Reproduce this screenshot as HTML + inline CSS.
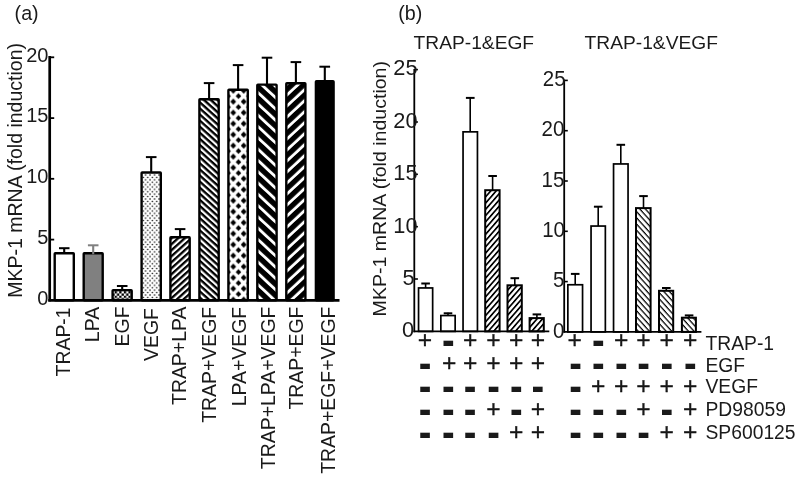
<!DOCTYPE html>
<html lang="en"><head><meta charset="utf-8"><title>MKP-1 mRNA fold induction</title>
<style>html,body{margin:0;padding:0;background:#fff;}body{width:800px;height:479px;overflow:hidden;}svg{display:block;will-change:transform;}text{font-family:"Liberation Sans", Arial, sans-serif;fill:#1a1a1a;}</style>
</head><body>
<svg width="800" height="479" viewBox="0 0 800 479">
<rect x="0" y="0" width="800" height="479" fill="#ffffff"/>
<defs>
<pattern id="pChk" patternUnits="userSpaceOnUse" x="114.65" y="291.15" width="4.6" height="4.6"><rect width="4.6" height="4.6" fill="#fff"/><rect x="0" y="0" width="2.3" height="2.3" fill="#000"/><rect x="2.3" y="2.3" width="2.3" height="2.3" fill="#000"/></pattern>
<pattern id="pDot" patternUnits="userSpaceOnUse" x="141.05" y="175.0" width="4.5" height="4.8"><rect width="4.5" height="4.8" fill="#fff"/><circle cx="2.25" cy="2.4" r="0.8" fill="#000"/><circle cx="0" cy="0" r="0.8" fill="#000"/><circle cx="4.5" cy="0" r="0.8" fill="#000"/><circle cx="0" cy="4.8" r="0.8" fill="#000"/><circle cx="4.5" cy="4.8" r="0.8" fill="#000"/></pattern>
<pattern id="pFwdM" patternUnits="userSpaceOnUse" width="20" height="4.459" patternTransform="translate(170.00 238.00) rotate(-42.00)"><rect width="20" height="4.459" fill="#fff"/><rect width="20" height="2.300" fill="#000"/></pattern>
<pattern id="pBackF" patternUnits="userSpaceOnUse" width="20" height="4.533" patternTransform="translate(199.00 100.00) rotate(42.00)"><rect width="20" height="4.533" fill="#fff"/><rect width="20" height="2.350" fill="#000"/></pattern>
<pattern id="pBackB" patternUnits="userSpaceOnUse" width="20" height="8.264" patternTransform="translate(257.00 82.30) rotate(43.00)"><rect width="20" height="8.264" fill="#fff"/><rect width="20" height="5.400" fill="#000"/></pattern>
<pattern id="pFwdB" patternUnits="userSpaceOnUse" width="20" height="8.045" patternTransform="translate(286.00 86.80) rotate(-43.00)"><rect width="20" height="8.045" fill="#fff"/><rect width="20" height="5.200" fill="#000"/></pattern>
<pattern id="pFwdT" patternUnits="userSpaceOnUse" width="20" height="4.100" patternTransform="translate(485.00 190.00) rotate(-49.00)"><rect width="20" height="4.100" fill="#fff"/><rect width="20" height="1.700" fill="#000"/></pattern>
<pattern id="pBackT" patternUnits="userSpaceOnUse" width="20" height="4.149" patternTransform="translate(636.00 210.00) rotate(48.00)"><rect width="20" height="4.149" fill="#fff"/><rect width="20" height="1.250" fill="#000"/></pattern>
<pattern id="pDia" patternUnits="userSpaceOnUse" x="233.4" y="90.65" width="10.4" height="11"><rect width="10.4" height="11" fill="#fff"/><path d="M0 -2.9L2.8 0L0 2.9L-2.8 0Z M10.2 -2.9L13 0L10.2 2.9L7.4 0Z M0 8L2.8 10.9L0 13.8L-2.8 10.9Z M10.2 8L13 10.9L10.2 13.8L7.4 10.9Z M5.1 2.55L7.9 5.45L5.1 8.35L2.3 5.45Z" fill="#000"/></pattern>
</defs>
<g id="chart-a">
<rect x="54.70" y="253.20" width="19.10" height="47.20" rx="0.6" fill="#fff" stroke="#000" stroke-width="2.4"/>
<path d="M64.2 253.0V248.2" stroke="#000" stroke-width="2.1" fill="none"/><path d="M59.0 248.2H69.5" stroke="#000" stroke-width="2" fill="none"/>
<rect x="83.70" y="253.20" width="19.00" height="47.20" rx="0.6" fill="#808080" stroke="#000" stroke-width="2.4"/>
<path d="M93.2 254.2V245.3" stroke="#808080" stroke-width="2.1" fill="none"/><path d="M87.9 245.3H98.5" stroke="#808080" stroke-width="2" fill="none"/>
<rect x="112.60" y="290.10" width="19.10" height="10.30" rx="0.6" fill="url(#pChk)" stroke="#000" stroke-width="2.4"/>
<path d="M122.2 289.9V286.0" stroke="#000" stroke-width="2.1" fill="none"/><path d="M116.9 286.0H127.5" stroke="#000" stroke-width="2" fill="none"/>
<rect x="141.60" y="172.50" width="19.20" height="127.90" rx="0.6" fill="url(#pDot)" stroke="#000" stroke-width="2.4"/>
<path d="M151.2 172.3V157.1" stroke="#000" stroke-width="2.1" fill="none"/><path d="M145.9 157.1H156.5" stroke="#000" stroke-width="2" fill="none"/>
<rect x="170.40" y="237.30" width="19.30" height="63.10" rx="0.6" fill="url(#pFwdM)" stroke="#000" stroke-width="2.4"/>
<path d="M180.1 237.1V229.1" stroke="#000" stroke-width="2.1" fill="none"/><path d="M174.8 229.1H185.4" stroke="#000" stroke-width="2" fill="none"/>
<rect x="199.40" y="99.20" width="19.30" height="201.20" rx="0.6" fill="url(#pBackF)" stroke="#000" stroke-width="2.4"/>
<path d="M209.1 99.0V83.1" stroke="#000" stroke-width="2.1" fill="none"/><path d="M203.8 83.1H214.4" stroke="#000" stroke-width="2" fill="none"/>
<rect x="228.40" y="89.80" width="19.40" height="210.60" rx="0.6" fill="url(#pDia)" stroke="#000" stroke-width="2.4"/>
<path d="M238.1 89.6V65.1" stroke="#000" stroke-width="2.1" fill="none"/><path d="M232.8 65.1H243.4" stroke="#000" stroke-width="2" fill="none"/>
<rect x="257.30" y="84.60" width="19.30" height="215.80" rx="0.6" fill="url(#pBackB)" stroke="#000" stroke-width="2.4"/>
<path d="M267.0 84.4V57.7" stroke="#000" stroke-width="2.1" fill="none"/><path d="M261.7 57.7H272.3" stroke="#000" stroke-width="2" fill="none"/>
<rect x="286.30" y="83.20" width="19.10" height="217.20" rx="0.6" fill="url(#pFwdB)" stroke="#000" stroke-width="2.4"/>
<path d="M295.9 83.0V62.1" stroke="#000" stroke-width="2.1" fill="none"/><path d="M290.6 62.1H301.2" stroke="#000" stroke-width="2" fill="none"/>
<rect x="315.90" y="81.20" width="17.70" height="219.20" rx="0.6" fill="#000" stroke="#000" stroke-width="2.4"/>
<path d="M324.8 81.0V66.7" stroke="#000" stroke-width="2.1" fill="none"/><path d="M319.4 66.7H330.1" stroke="#000" stroke-width="2" fill="none"/>
<path d="M49.7 56V301.4" stroke="#000" stroke-width="2.7" fill="none"/>
<path d="M48.3 300.4H339.5" stroke="#000" stroke-width="2.8" fill="none"/>
<path d="M49.7 239.6H54.2" stroke="#000" stroke-width="1.8" fill="none"/>
<path d="M49.7 178.8H54.2" stroke="#000" stroke-width="1.8" fill="none"/>
<path d="M49.7 118.1H54.2" stroke="#000" stroke-width="1.8" fill="none"/>
<path d="M49.7 57.3H54.2" stroke="#000" stroke-width="1.8" fill="none"/>
<text x="48.4" y="304.7" font-size="20" text-anchor="end">0</text>
<text x="48.4" y="243.9" font-size="20" text-anchor="end">5</text>
<text x="48.4" y="183.1" font-size="20" text-anchor="end">10</text>
<text x="48.4" y="122.4" font-size="20" text-anchor="end">15</text>
<text x="48.4" y="61.6" font-size="20" text-anchor="end">20</text>
<text transform="translate(21.7 297.85) rotate(-90) scale(1 1.03)" font-size="19.53">MKP-1 mRNA (fold induction)</text>
<text transform="translate(69.5 307.4) rotate(-90) scale(1 1.08)" font-size="19.42" text-anchor="end">TRAP-1</text>
<text transform="translate(98.5 306.9) rotate(-90) scale(1 1.08)" font-size="19.42" text-anchor="end">LPA</text>
<text transform="translate(129.4 306.5) rotate(-90) scale(1 1.08)" font-size="19.42" text-anchor="end">EGF</text>
<text transform="translate(158.3 308.1) rotate(-90) scale(1 1.08)" font-size="19.42" text-anchor="end">VEGF</text>
<text transform="translate(185.6 306.6) rotate(-90) scale(1 1.08)" font-size="19.42" text-anchor="end">TRAP+LPA</text>
<text transform="translate(216.1 306.8) rotate(-90) scale(1 1.08)" font-size="19.42" text-anchor="end">TRAP+VEGF</text>
<text transform="translate(246.0 306.8) rotate(-90) scale(1 1.08)" font-size="19.42" text-anchor="end">LPA+VEGF</text>
<text transform="translate(274.8 306.6) rotate(-90) scale(1 1.08)" font-size="19.42" text-anchor="end">TRAP+LPA+VEGF</text>
<text transform="translate(303.0 306.6) rotate(-90) scale(1 1.08)" font-size="19.42" text-anchor="end">TRAP+EGF</text>
<text transform="translate(335.4 306.6) rotate(-90) scale(1 1.08)" font-size="19.42" text-anchor="end">TRAP+EGF+VEGF</text>
<text x="14.6" y="20" font-size="19.7">(a)</text>
</g>
<g id="chart-b1">
<path d="M425.6 288.1V283.0" stroke="#000" stroke-width="1.6" fill="none"/><path d="M421.3 283.5H429.9" stroke="#000" stroke-width="2" fill="none"/>
<rect x="418.55" y="287.95" width="14.10" height="43.45" fill="#fff" stroke="#000" stroke-width="1.7"/>
<path d="M448.0 315.7V312.8" stroke="#000" stroke-width="1.6" fill="none"/><path d="M443.7 313.3H452.3" stroke="#000" stroke-width="2" fill="none"/>
<rect x="440.85" y="315.55" width="14.30" height="15.85" fill="#fff" stroke="#000" stroke-width="1.7"/>
<path d="M470.2 132.0V97.4" stroke="#000" stroke-width="1.6" fill="none"/><path d="M465.9 97.9H474.6" stroke="#000" stroke-width="2" fill="none"/>
<rect x="463.05" y="131.85" width="14.40" height="199.55" fill="#fff" stroke="#000" stroke-width="1.7"/>
<path d="M492.6 190.2V175.5" stroke="#000" stroke-width="1.6" fill="none"/><path d="M488.3 176.0H496.9" stroke="#000" stroke-width="2" fill="none"/>
<rect x="485.20" y="190.20" width="14.40" height="141.20" fill="url(#pFwdT)" stroke="#000" stroke-width="2.0"/>
<path d="M514.8 285.3V277.7" stroke="#000" stroke-width="1.6" fill="none"/><path d="M510.5 278.2H519.1" stroke="#000" stroke-width="2" fill="none"/>
<rect x="507.50" y="285.30" width="14.30" height="46.10" fill="url(#pFwdT)" stroke="#000" stroke-width="2.0"/>
<path d="M536.9 318.1V313.9" stroke="#000" stroke-width="1.6" fill="none"/><path d="M532.6 314.4H541.2" stroke="#000" stroke-width="2" fill="none"/>
<rect x="529.60" y="318.10" width="14.20" height="13.30" fill="url(#pFwdT)" stroke="#000" stroke-width="2.0"/>
<path d="M414.3 69.0V332.2" stroke="#000" stroke-width="1.8" fill="none"/>
<path d="M413.4 331.4H549.3" stroke="#000" stroke-width="1.8" fill="none"/>
<path d="M414.3 279.0H417.9" stroke="#000" stroke-width="1.6" fill="none"/>
<path d="M414.3 226.7H417.9" stroke="#000" stroke-width="1.6" fill="none"/>
<path d="M414.3 174.3H417.9" stroke="#000" stroke-width="1.6" fill="none"/>
<path d="M414.3 122.0H417.9" stroke="#000" stroke-width="1.6" fill="none"/>
<path d="M414.3 69.6H417.9" stroke="#000" stroke-width="1.6" fill="none"/>
<text transform="translate(414.2 337.2) scale(1 1.010)" font-size="21.8" text-anchor="end">0</text>
<text transform="translate(414.6 284.8) scale(1 1.010)" font-size="21.8" text-anchor="end">5</text>
<text transform="translate(417.6 232.5) scale(1 1.010)" font-size="21.8" text-anchor="end">10</text>
<text transform="translate(417.6 180.1) scale(1 1.010)" font-size="21.8" text-anchor="end">15</text>
<text transform="translate(417.6 127.8) scale(1 1.010)" font-size="21.8" text-anchor="end">20</text>
<text transform="translate(417.6 75.4) scale(1 1.010)" font-size="21.8" text-anchor="end">25</text>
<text x="413.6" y="48.5" font-size="19.2">TRAP-1&amp;EGF</text>
</g>
<g id="chart-b2">
<path d="M575.2 284.9V273.4" stroke="#000" stroke-width="1.6" fill="none"/><path d="M570.9 273.9H579.5" stroke="#000" stroke-width="2" fill="none"/>
<rect x="567.85" y="284.75" width="14.70" height="47.15" fill="#fff" stroke="#000" stroke-width="1.7"/>
<path d="M598.2 226.2V206.2" stroke="#000" stroke-width="1.6" fill="none"/><path d="M593.9 206.7H602.5" stroke="#000" stroke-width="2" fill="none"/>
<rect x="591.05" y="226.05" width="14.30" height="105.85" fill="#fff" stroke="#000" stroke-width="1.7"/>
<path d="M620.8 164.1V144.3" stroke="#000" stroke-width="1.6" fill="none"/><path d="M616.5 144.8H625.1" stroke="#000" stroke-width="2" fill="none"/>
<rect x="613.55" y="163.95" width="14.50" height="167.95" fill="#fff" stroke="#000" stroke-width="1.7"/>
<path d="M643.5 208.1V195.6" stroke="#000" stroke-width="1.6" fill="none"/><path d="M639.2 196.1H647.8" stroke="#000" stroke-width="2" fill="none"/>
<rect x="636.00" y="208.10" width="14.60" height="123.80" fill="url(#pBackT)" stroke="#000" stroke-width="2.0"/>
<path d="M666.3 290.8V287.5" stroke="#000" stroke-width="1.6" fill="none"/><path d="M662.0 288.0H670.6" stroke="#000" stroke-width="2" fill="none"/>
<rect x="659.00" y="290.80" width="14.20" height="41.10" fill="url(#pBackT)" stroke="#000" stroke-width="2.0"/>
<path d="M689.1 317.7V314.9" stroke="#000" stroke-width="1.6" fill="none"/><path d="M684.8 315.4H693.4" stroke="#000" stroke-width="2" fill="none"/>
<rect x="681.90" y="317.70" width="14.00" height="14.20" fill="url(#pBackT)" stroke="#000" stroke-width="2.0"/>
<path d="M564.2 79.6V332.7" stroke="#000" stroke-width="1.8" fill="none"/>
<path d="M563.3 331.9H701.4" stroke="#000" stroke-width="1.8" fill="none"/>
<path d="M564.2 281.6H567.8" stroke="#000" stroke-width="1.6" fill="none"/>
<path d="M564.2 231.3H567.8" stroke="#000" stroke-width="1.6" fill="none"/>
<path d="M564.2 181.0H567.8" stroke="#000" stroke-width="1.6" fill="none"/>
<path d="M564.2 130.7H567.8" stroke="#000" stroke-width="1.6" fill="none"/>
<path d="M564.2 80.4H567.8" stroke="#000" stroke-width="1.6" fill="none"/>
<text transform="translate(564.4 337.5) scale(1 1.075)" font-size="20.5" text-anchor="end">0</text>
<text transform="translate(564.4 287.2) scale(1 1.075)" font-size="20.5" text-anchor="end">5</text>
<text transform="translate(565.0 236.9) scale(1 1.075)" font-size="20.5" text-anchor="end">10</text>
<text transform="translate(564.4 186.6) scale(1 1.075)" font-size="20.5" text-anchor="end">15</text>
<text transform="translate(564.4 136.3) scale(1 1.075)" font-size="20.5" text-anchor="end">20</text>
<text transform="translate(565.6 86.0) scale(1 1.075)" font-size="20.5" text-anchor="end">25</text>
<text x="584.6" y="48.5" font-size="19.2">TRAP-1&amp;VEGF</text>
</g>
<text transform="translate(385.7 316.4) rotate(-90) scale(1 0.97)" font-size="19.58">MKP-1 mRNA (fold induction)</text>
<text x="398.2" y="20" font-size="19.7">(b)</text>
<g id="matrix">
<text x="417.8" y="348.3" font-size="24.6" fill="#000" stroke="#000" stroke-width="0.3">+</text>
<text transform="translate(448.3 343.4) scale(1 1.18)" x="-6.31" y="9.86" font-size="38" font-weight="bold" fill="#000">-</text>
<text x="462.9" y="348.3" font-size="24.6" fill="#000" stroke="#000" stroke-width="0.3">+</text>
<text x="486.3" y="348.3" font-size="24.6" fill="#000" stroke="#000" stroke-width="0.3">+</text>
<text x="509.0" y="348.3" font-size="24.6" fill="#000" stroke="#000" stroke-width="0.3">+</text>
<text x="530.7" y="348.3" font-size="24.6" fill="#000" stroke="#000" stroke-width="0.3">+</text>
<text transform="translate(425.0 366.1) scale(1 1.18)" x="-6.31" y="9.86" font-size="38" font-weight="bold" fill="#000">-</text>
<text x="442.1" y="371.0" font-size="24.6" fill="#000" stroke="#000" stroke-width="0.3">+</text>
<text x="462.9" y="371.0" font-size="24.6" fill="#000" stroke="#000" stroke-width="0.3">+</text>
<text x="486.3" y="371.0" font-size="24.6" fill="#000" stroke="#000" stroke-width="0.3">+</text>
<text x="509.0" y="371.0" font-size="24.6" fill="#000" stroke="#000" stroke-width="0.3">+</text>
<text x="530.7" y="371.0" font-size="24.6" fill="#000" stroke="#000" stroke-width="0.3">+</text>
<text transform="translate(425.0 388.9) scale(1 1.18)" x="-6.31" y="9.86" font-size="38" font-weight="bold" fill="#000">-</text>
<text transform="translate(448.3 388.9) scale(1 1.18)" x="-6.31" y="9.86" font-size="38" font-weight="bold" fill="#000">-</text>
<text transform="translate(470.1 388.9) scale(1 1.18)" x="-6.31" y="9.86" font-size="38" font-weight="bold" fill="#000">-</text>
<text transform="translate(493.5 388.9) scale(1 1.18)" x="-6.31" y="9.86" font-size="38" font-weight="bold" fill="#000">-</text>
<text transform="translate(516.2 388.9) scale(1 1.18)" x="-6.31" y="9.86" font-size="38" font-weight="bold" fill="#000">-</text>
<text transform="translate(537.9 388.9) scale(1 1.18)" x="-6.31" y="9.86" font-size="38" font-weight="bold" fill="#000">-</text>
<text transform="translate(425.0 411.9) scale(1 1.18)" x="-6.31" y="9.86" font-size="38" font-weight="bold" fill="#000">-</text>
<text transform="translate(448.3 411.9) scale(1 1.18)" x="-6.31" y="9.86" font-size="38" font-weight="bold" fill="#000">-</text>
<text transform="translate(470.1 411.9) scale(1 1.18)" x="-6.31" y="9.86" font-size="38" font-weight="bold" fill="#000">-</text>
<text x="486.3" y="416.8" font-size="24.6" fill="#000" stroke="#000" stroke-width="0.3">+</text>
<text transform="translate(516.2 411.9) scale(1 1.18)" x="-6.31" y="9.86" font-size="38" font-weight="bold" fill="#000">-</text>
<text x="530.7" y="416.8" font-size="24.6" fill="#000" stroke="#000" stroke-width="0.3">+</text>
<text transform="translate(425.0 435.0) scale(1 1.18)" x="-6.31" y="9.86" font-size="38" font-weight="bold" fill="#000">-</text>
<text transform="translate(448.3 435.0) scale(1 1.18)" x="-6.31" y="9.86" font-size="38" font-weight="bold" fill="#000">-</text>
<text transform="translate(470.1 435.0) scale(1 1.18)" x="-6.31" y="9.86" font-size="38" font-weight="bold" fill="#000">-</text>
<text transform="translate(493.5 435.0) scale(1 1.18)" x="-6.31" y="9.86" font-size="38" font-weight="bold" fill="#000">-</text>
<text x="509.0" y="439.9" font-size="24.6" fill="#000" stroke="#000" stroke-width="0.3">+</text>
<text x="530.7" y="439.9" font-size="24.6" fill="#000" stroke="#000" stroke-width="0.3">+</text>
<text x="567.4" y="348.3" font-size="24.6" fill="#000" stroke="#000" stroke-width="0.3">+</text>
<text transform="translate(598.3 343.4) scale(1 1.18)" x="-6.31" y="9.86" font-size="38" font-weight="bold" fill="#000">-</text>
<text x="614.1" y="348.3" font-size="24.6" fill="#000" stroke="#000" stroke-width="0.3">+</text>
<text x="636.3" y="348.3" font-size="24.6" fill="#000" stroke="#000" stroke-width="0.3">+</text>
<text x="659.5" y="348.3" font-size="24.6" fill="#000" stroke="#000" stroke-width="0.3">+</text>
<text x="683.0" y="348.3" font-size="24.6" fill="#000" stroke="#000" stroke-width="0.3">+</text>
<text transform="translate(575.6 366.1) scale(1 1.18)" x="-6.31" y="9.86" font-size="38" font-weight="bold" fill="#000">-</text>
<text transform="translate(598.3 366.1) scale(1 1.18)" x="-6.31" y="9.86" font-size="38" font-weight="bold" fill="#000">-</text>
<text transform="translate(621.3 366.1) scale(1 1.18)" x="-6.31" y="9.86" font-size="38" font-weight="bold" fill="#000">-</text>
<text transform="translate(643.5 366.1) scale(1 1.18)" x="-6.31" y="9.86" font-size="38" font-weight="bold" fill="#000">-</text>
<text transform="translate(666.7 366.1) scale(1 1.18)" x="-6.31" y="9.86" font-size="38" font-weight="bold" fill="#000">-</text>
<text transform="translate(690.2 366.1) scale(1 1.18)" x="-6.31" y="9.86" font-size="38" font-weight="bold" fill="#000">-</text>
<text transform="translate(575.6 388.9) scale(1 1.18)" x="-6.31" y="9.86" font-size="38" font-weight="bold" fill="#000">-</text>
<text x="591.1" y="393.8" font-size="24.6" fill="#000" stroke="#000" stroke-width="0.3">+</text>
<text x="614.1" y="393.8" font-size="24.6" fill="#000" stroke="#000" stroke-width="0.3">+</text>
<text x="636.3" y="393.8" font-size="24.6" fill="#000" stroke="#000" stroke-width="0.3">+</text>
<text x="659.5" y="393.8" font-size="24.6" fill="#000" stroke="#000" stroke-width="0.3">+</text>
<text x="683.0" y="393.8" font-size="24.6" fill="#000" stroke="#000" stroke-width="0.3">+</text>
<text transform="translate(575.6 411.9) scale(1 1.18)" x="-6.31" y="9.86" font-size="38" font-weight="bold" fill="#000">-</text>
<text transform="translate(598.3 411.9) scale(1 1.18)" x="-6.31" y="9.86" font-size="38" font-weight="bold" fill="#000">-</text>
<text transform="translate(621.3 411.9) scale(1 1.18)" x="-6.31" y="9.86" font-size="38" font-weight="bold" fill="#000">-</text>
<text x="636.3" y="416.8" font-size="24.6" fill="#000" stroke="#000" stroke-width="0.3">+</text>
<text transform="translate(666.7 411.9) scale(1 1.18)" x="-6.31" y="9.86" font-size="38" font-weight="bold" fill="#000">-</text>
<text x="683.0" y="416.8" font-size="24.6" fill="#000" stroke="#000" stroke-width="0.3">+</text>
<text transform="translate(575.6 435.0) scale(1 1.18)" x="-6.31" y="9.86" font-size="38" font-weight="bold" fill="#000">-</text>
<text transform="translate(598.3 435.0) scale(1 1.18)" x="-6.31" y="9.86" font-size="38" font-weight="bold" fill="#000">-</text>
<text transform="translate(621.3 435.0) scale(1 1.18)" x="-6.31" y="9.86" font-size="38" font-weight="bold" fill="#000">-</text>
<text transform="translate(643.5 435.0) scale(1 1.18)" x="-6.31" y="9.86" font-size="38" font-weight="bold" fill="#000">-</text>
<text x="659.5" y="439.9" font-size="24.6" fill="#000" stroke="#000" stroke-width="0.3">+</text>
<text x="683.0" y="439.9" font-size="24.6" fill="#000" stroke="#000" stroke-width="0.3">+</text>
<text x="705.5" y="349.8" font-size="19.3">TRAP-1</text>
<text x="705.5" y="371.5" font-size="19.3">EGF</text>
<text x="705.5" y="393.4" font-size="19.3">VEGF</text>
<text x="705.5" y="415.9" font-size="19.3">PD98059</text>
<text x="705.5" y="439.2" font-size="19.3">SP600125</text>
</g>
</svg>
</body></html>
